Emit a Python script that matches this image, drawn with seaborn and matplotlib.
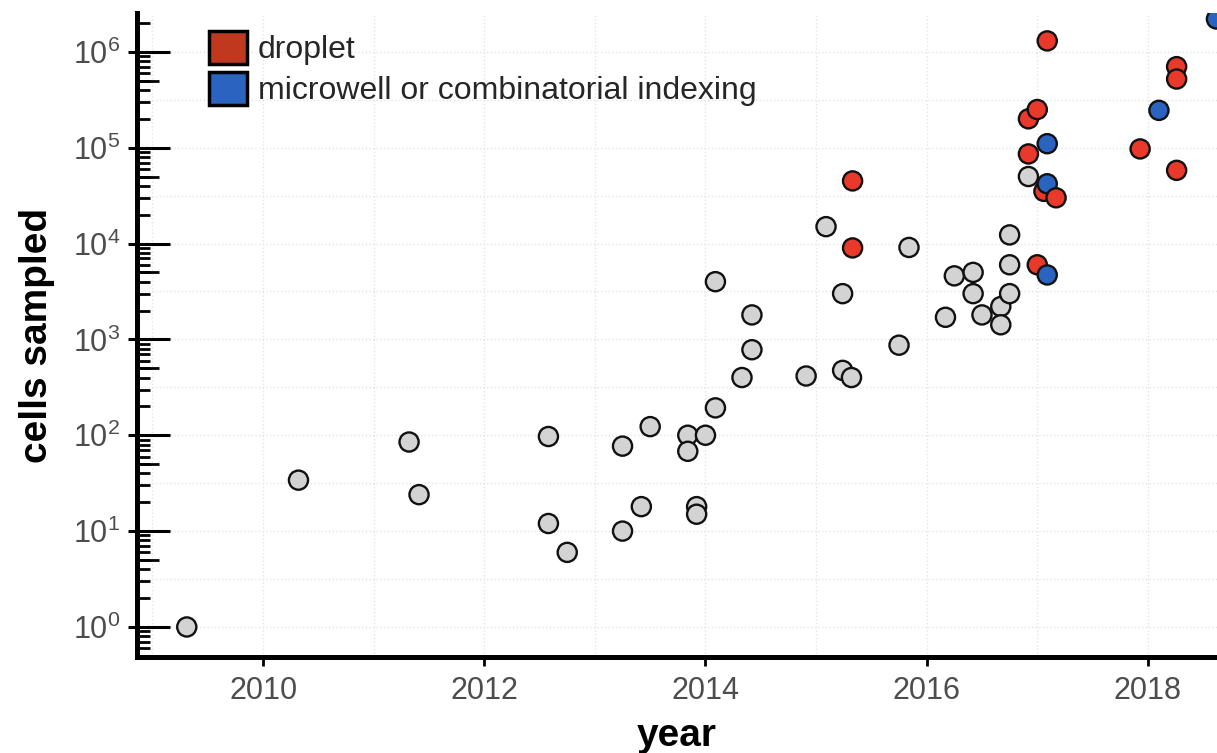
import numpy as np
import pandas as pd
import matplotlib
matplotlib.use("Agg")
import matplotlib.pyplot as plt
import matplotlib.ticker as mticker
from matplotlib.patches import Patch
import seaborn as sns

# estilo
sns.set_theme(style="white")
plt.rcParams['font.family'] = ['Liberation Sans', 'DejaVu Sans']

# dados (ano, celulas, metodo)
other_year = [2009.31, 2010.32, 2011.32, 2011.41, 2012.58, 2012.58, 2012.75,
              2013.25, 2013.25, 2013.42, 2013.50, 2013.84, 2013.84, 2013.92,
              2013.92, 2014.00, 2014.09, 2014.09, 2014.33, 2014.42, 2014.42,
              2014.91, 2015.09, 2015.24, 2015.24, 2015.32, 2015.75, 2015.84,
              2016.17, 2016.25, 2016.42, 2016.42, 2016.50, 2016.67, 2016.67,
              2016.75, 2016.75, 2016.75, 2016.92]
other_cells = [1, 34, 85, 24, 97, 12, 6,
               77, 10, 18, 123, 100, 68, 18,
               15, 100, 193, 4000, 400, 1800, 780,
               415, 15000, 3000, 475, 400, 870, 9100,
               1700, 4600, 5000, 3000, 1800, 2200, 1420,
               12300, 6000, 3000, 50000]

# pontos coloridos, na ordem de desenho
tech_year = [2015.33, 2015.33, 2016.92, 2017.00, 2016.92, 2017.09,
             2017.09, 2017.06, 2017.09, 2017.17, 2017.00, 2017.09,
             2017.93, 2018.10, 2018.26, 2018.26, 2018.26, 2018.62]
tech_cells = [45000, 9000, 200000, 250000, 86000, 1300000,
              110000, 35000, 42000, 30000, 6000, 4700,
              97000, 245000, 700000, 520000, 58000, 2200000]
tech_method = ['droplet', 'droplet', 'droplet', 'droplet', 'droplet', 'droplet',
               'microwell', 'droplet', 'microwell', 'droplet', 'droplet', 'microwell',
               'droplet', 'microwell', 'droplet', 'droplet', 'droplet', 'microwell']

legend_labels = ['droplet', 'microwell or combinatorial indexing']

df = pd.DataFrame({
    'year': other_year + tech_year,
    'cells': other_cells + tech_cells,
    'method': ['other'] * len(other_year) + tech_method,
})

palette = {'other': '#d3d3d3', 'droplet': '#e9392b', 'microwell': '#2b63c1'}
legend_colors = ['#c0391f', '#2b63c1']

fig = plt.figure(figsize=(12.17, 7.53), dpi=100)
ax = fig.add_axes([137 / 1217, 96 / 753, 1080 / 1217, 644 / 753])

sns.scatterplot(data=df, x='year', y='cells', hue='method', palette=palette,
                s=190, edgecolor='#111111', linewidth=1.7, legend=False,
                ax=ax, zorder=3)

ax.set_yscale('log')
ax.set_xlim(2008.86, 2018.625)
ax.set_ylim(0.486, 2.54e6)

# grade pontilhada
for yy in 10 ** np.arange(0, 7, 0.5):
    ax.axhline(yy, color='#e4e4e4', lw=1, ls=':', zorder=0)
for xx in range(2009, 2019):
    ax.axvline(xx, color='#e4e4e4', lw=1, ls=':', zorder=0)

# eixos
for side in ['top', 'right']:
    ax.spines[side].set_visible(False)
for side in ['left', 'bottom']:
    ax.spines[side].set_linewidth(3.6)
    ax.spines[side].set_color('black')

ax.set_xticks([2010, 2012, 2014, 2016, 2018])
ax.tick_params(axis='x', which='major', bottom=True, direction='out', length=6.5,
               width=2, color='black', labelsize=22, labelcolor='#4d4d4d', pad=7)

ax.yaxis.set_major_locator(mticker.FixedLocator(10.0 ** np.arange(0, 7)))
ax.yaxis.set_major_formatter(mticker.LogFormatterSciNotation())
ax.yaxis.set_minor_locator(mticker.LogLocator(base=10, subs=np.arange(2, 10), numticks=20))
ax.yaxis.set_minor_formatter(mticker.NullFormatter())
ax.tick_params(axis='y', which='major', left=True, direction='in', length=24, width=2.2,
               color='black', labelsize=22, labelcolor='#4d4d4d', pad=12)
ax.tick_params(axis='y', which='minor', left=True, direction='in', length=9, width=2,
               color='black')

# marcas extras: 5x10^k mais longas e pontas para fora em 10^k
sec_half = ax.secondary_yaxis('left')
sec_half.set_yticks(5 * 10.0 ** np.arange(0, 6))
sec_half.tick_params(axis='y', which='major', left=True, direction='in', length=16,
                     width=2, color='black', labelleft=False)
sec_half.tick_params(axis='y', which='minor', length=0, labelleft=False)
sec_half.spines['left'].set_visible(False)

sec_out = ax.secondary_yaxis('left')
sec_out.set_yticks(10.0 ** np.arange(0, 7))
sec_out.tick_params(axis='y', which='major', left=True, direction='out', length=6.5,
                    width=2.2, color='black', labelleft=False)
sec_out.tick_params(axis='y', which='minor', length=0, labelleft=False)
sec_out.spines['left'].set_visible(False)

ax.set_xlabel('year', fontsize=28, fontweight='bold', color='black')
ax.set_ylabel('cells sampled', fontsize=28, fontweight='bold', color='black')
ax.xaxis.set_label_coords(0.5, -0.095)
ax.yaxis.set_label_coords(-0.076, 0.5)

handles = [Patch(facecolor=c, edgecolor='black', linewidth=2.5) for c in legend_colors]
ax.legend(handles, legend_labels, loc='upper left',
          bbox_to_anchor=(209 / 1217, 1 - 31 / 753), bbox_transform=fig.transFigure,
          frameon=False, fontsize=23, handlelength=1.2, handleheight=1.2,
          handletextpad=0.33, labelspacing=0.22, borderpad=0, borderaxespad=0)

plt.savefig('out.png', dpi=100)
